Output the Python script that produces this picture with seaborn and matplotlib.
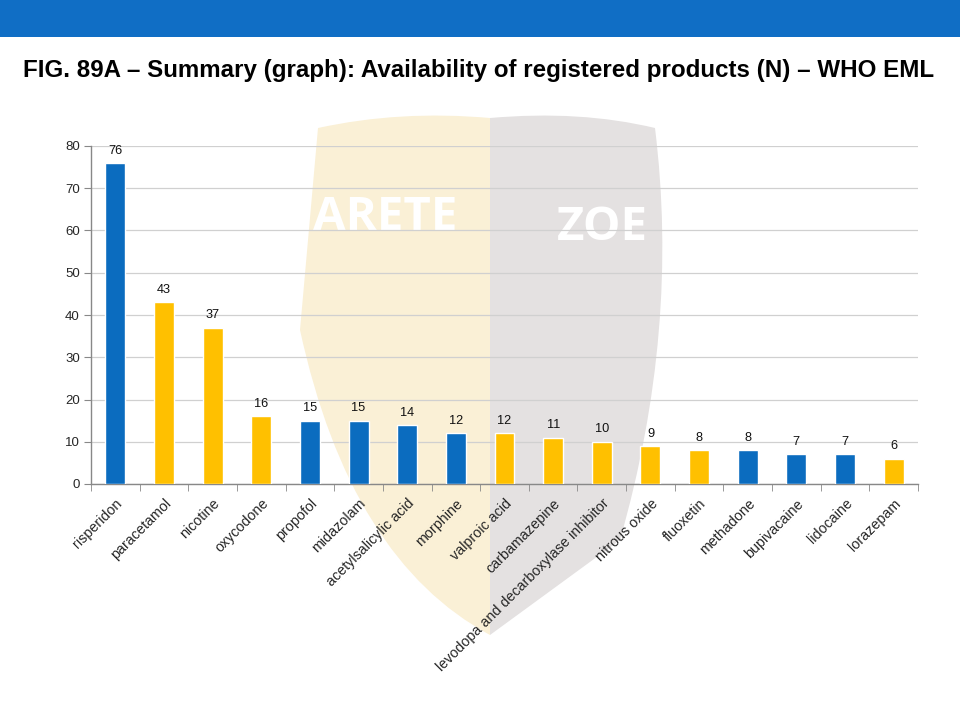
import matplotlib
matplotlib.use("Agg")
import matplotlib.pyplot as plt
import seaborn as sns
import pandas as pd
import numpy as np
from matplotlib.patches import Rectangle, PathPatch
from matplotlib.path import Path

drugs = ["risperidon", "paracetamol", "nicotine", "oxycodone", "propofol", "midazolam",
         "acetylsalicylic acid", "morphine", "valproic acid", "carbamazepine",
         "levodopa and decarboxylase inhibitor", "nitrous oxide", "fluoxetin",
         "methadone", "bupivacaine", "lidocaine", "lorazepam"]
counts = [76, 43, 37, 16, 15, 15, 14, 12, 12, 11, 10, 9, 8, 8, 7, 7, 6]
groups = ["A", "B", "B", "B", "A", "A", "A", "A", "B", "B", "B", "B", "B", "A", "A", "A", "B"]
palette = {"A": "#0B6CBF", "B": "#FFC000"}
title = "FIG. 89A \u2013 Summary (graph): Availability of registered products (N) \u2013 WHO EML"

df = pd.DataFrame({"drug": drugs, "n": counts, "group": groups})

sns.set_style("white")
plt.rcParams['font.family'] = ['Liberation Sans', 'DejaVu Sans']

fig = plt.figure(figsize=(9.6, 7.2), dpi=100)
fig.patch.set_facecolor("white")

# background axes for decoration (pixel coordinates)
bg = fig.add_axes([0, 0, 1, 1], zorder=0)
bg.set_xlim(0, 960)
bg.set_ylim(720, 0)
bg.axis("off")

bg.add_patch(Rectangle((0, 0), 960, 37, facecolor="#106EC5", edgecolor="none"))

left = Path([(318, 128), (400, 110), (490, 118),
             (490, 635), (350, 560), (300, 330), (318, 128)],
            [Path.MOVETO, Path.CURVE3, Path.CURVE3, Path.LINETO, Path.CURVE3, Path.CURVE3, Path.CLOSEPOLY])
right = Path([(490, 118), (580, 110), (655, 128),
              (680, 330), (620, 540), (490, 635), (490, 118)],
             [Path.MOVETO, Path.CURVE3, Path.CURVE3, Path.CURVE3, Path.CURVE3, Path.LINETO, Path.CLOSEPOLY])
bg.add_patch(PathPatch(left, facecolor="#FAF0D6", edgecolor="none"))
bg.add_patch(PathPatch(right, facecolor="#E4E1E1", edgecolor="none"))
bg.text(385, 217, "ARETE", color="white", fontsize=34, fontweight="bold",
        ha="center", va="center", family=["Open Sans", "DejaVu Sans"])
bg.text(602, 228, "ZOE", color="white", fontsize=34, fontweight="bold",
        ha="center", va="center", family=["Open Sans", "DejaVu Sans"])

bg.text(479, 71, title, ha="center", va="center", fontsize=17.4,
        fontweight="bold", color="black")

ax = fig.add_axes([91 / 960, 1 - 484 / 720, (918 - 91) / 960, (484 - 146) / 720], zorder=2)
ax.set_facecolor("none")
ax.patch.set_alpha(0)

sns.barplot(data=df, x="drug", y="n", hue="group", palette=palette, dodge=False,
            width=0.41, legend=False, ax=ax, saturation=1, zorder=3)

for i, v in enumerate(counts):
    ax.text(i, v + 1.5, str(v), ha="center", va="bottom", fontsize=9.2, color="#111111", zorder=4)

ax.set_ylim(0, 80)
ax.set_xlim(-0.5, len(drugs) - 0.5)
ax.set_yticks(np.arange(0, 81, 10))
ax.yaxis.grid(True, color="#D0D0D0", linewidth=0.9, zorder=0)
ax.set_axisbelow(True)
ax.set_xlabel("")
ax.set_ylabel("")
for s in ["top", "right"]:
    ax.spines[s].set_visible(False)
for s in ["left", "bottom"]:
    ax.spines[s].set_color("#888888")
    ax.spines[s].set_linewidth(1.0)
ax.tick_params(axis="y", length=5, color="#888888", labelsize=9.5, pad=3, direction="out", left=True)
ax.tick_params(axis="x", which="major", length=0, labelsize=10.3, pad=9)
ax.set_xticks(np.arange(-0.5, len(drugs), 1), minor=True)
ax.tick_params(axis="x", which="minor", length=5, color="#888888", direction="out", bottom=True)
ax.set_xticks(range(len(drugs)))
ax.set_xticklabels(drugs, rotation=45, ha="right", rotation_mode="anchor")

fig.savefig("out.png", dpi=100, facecolor="white")
